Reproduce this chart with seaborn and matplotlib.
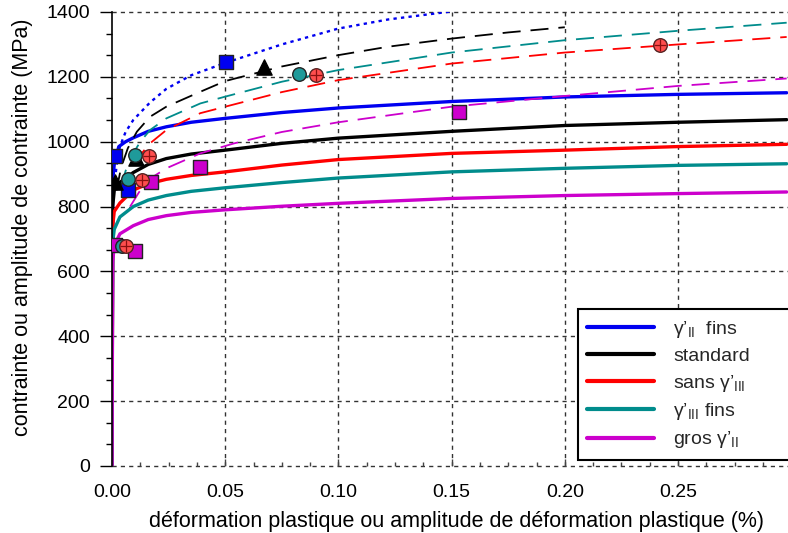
import numpy as np
import pandas as pd
import matplotlib
matplotlib.use("Agg")
import matplotlib.pyplot as plt
import seaborn as sns
from matplotlib.ticker import MultipleLocator, AutoMinorLocator
from matplotlib.lines import Line2D

# ---------------- data ----------------
# monotonic / cyclic stress-strain curves (solid)
fins_II_x = [0.0, 0.0003, 0.001, 0.003, 0.006, 0.0094, 0.016, 0.024, 0.035, 0.05, 0.075, 0.1, 0.15, 0.2, 0.25, 0.298]
fins_II_y = [0, 880, 930, 985, 1000, 1012, 1032, 1046, 1060, 1072, 1090, 1104, 1124, 1138, 1146, 1151]

std_x = [0.0, 0.0003, 0.001, 0.003, 0.0094, 0.016, 0.024, 0.035, 0.05, 0.075, 0.1, 0.15, 0.2, 0.25, 0.298]
std_y = [0, 800, 850, 872, 905, 930, 948, 962, 974, 995, 1011, 1032, 1050, 1060, 1068]

sans_III_x = [0.0, 0.0003, 0.001, 0.0035, 0.0094, 0.016, 0.024, 0.035, 0.05, 0.075, 0.1, 0.15, 0.2, 0.25, 0.298]
sans_III_y = [0, 740, 785, 811, 851, 870, 884, 896, 907, 928, 945, 964, 974, 985, 992]

fins_III_x = [0.0, 0.0003, 0.001, 0.0035, 0.0094, 0.016, 0.024, 0.035, 0.05, 0.075, 0.1, 0.15, 0.2, 0.25, 0.298]
fins_III_y = [0, 690, 730, 768, 800, 820, 834, 847, 858, 874, 888, 907, 918, 927, 932]

gros_II_x = [0.0, 0.0003, 0.001, 0.0035, 0.0094, 0.016, 0.024, 0.035, 0.05, 0.075, 0.1, 0.15, 0.2, 0.25, 0.298]
gros_II_y = [0, 630, 680, 716, 741, 760, 772, 782, 790, 801, 810, 825, 834, 840, 845]

# fitted cyclic curves (dashed)
fins_II_fit_x = [0.001, 0.002, 0.0035, 0.006, 0.0094, 0.0168, 0.024, 0.035, 0.05, 0.075, 0.1, 0.122, 0.148, 0.17]
fins_II_fit_y = [860, 925, 985, 1030, 1067, 1121, 1163, 1205, 1243, 1300, 1349, 1377, 1400, 1425]

std_fit_x = [0.002, 0.004, 0.007, 0.011, 0.0168, 0.024, 0.039, 0.05, 0.075, 0.1, 0.122, 0.15, 0.175, 0.2]
std_fit_y = [850, 920, 980, 1031, 1077, 1108, 1154, 1187, 1232, 1267, 1293, 1318, 1337, 1353]

fins_III_fit_x = [0.004, 0.006, 0.009, 0.0125, 0.0168, 0.024, 0.039, 0.05, 0.075, 0.1, 0.15, 0.2, 0.25, 0.298]
fins_III_fit_y = [860, 910, 960, 1000, 1036, 1072, 1118, 1139, 1185, 1221, 1275, 1313, 1342, 1367]

sans_III_fit_x = [0.005, 0.008, 0.012, 0.0168, 0.024, 0.039, 0.05, 0.075, 0.1, 0.15, 0.2, 0.25, 0.298]
sans_III_fit_y = [850, 905, 955, 995, 1036, 1088, 1108, 1153, 1190, 1241, 1275, 1300, 1323]

gros_II_fit_x = [0.008, 0.012, 0.017, 0.024, 0.039, 0.054, 0.075, 0.1, 0.15, 0.2, 0.25, 0.298]
gros_II_fit_y = [800, 845, 887, 918, 964, 995, 1030, 1060, 1108, 1141, 1172, 1195]

# measured points
fins_II_pts_x = [0.0504, 0.0013, 0.0072]
fins_II_pts_y = [1245, 957, 851]
std_pts_x = [0.067, 0.0106, 0.0013]
std_pts_y = [1231, 950, 877]
fins_III_pts_x = [0.0827, 0.0102, 0.0072, 0.0043]
fins_III_pts_y = [1208, 958, 884, 677]
sans_III_pts_x = [0.242, 0.090, 0.0165, 0.0131, 0.0062]
sans_III_pts_y = [1298, 1205, 956, 882, 677]
gros_II_pts_x = [0.1534, 0.0389, 0.0171, 0.0102, 0.0013]
gros_II_pts_y = [1092, 921, 877, 664, 682]

legend_labels = ["γ’$_\\mathregular{II}$  fins", "standard", "sans γ’$_\\mathregular{III}$",
                 "γ’$_\\mathregular{III}$ fins", "gros γ’$_\\mathregular{II}$"]
x_label = "déformation plastique ou amplitude de déformation plastique (%)"
y_label = "contrainte ou amplitude de contrainte (MPa)"

# ---------------- style ----------------
sns.set_theme(style="white")
plt.rcParams["font.family"] = ["Liberation Sans", "DejaVu Sans"]
plt.rcParams["mathtext.fontset"] = "custom"
plt.rcParams["mathtext.rm"] = "Liberation Sans"

BLUE = "#0000F0"
BLACK = "#000000"
RED = "#FF0000"
TEAL = "#008C8C"
MAG = "#CC00CC"

fig = plt.figure(figsize=(7.88, 5.33), dpi=100)
ax = fig.add_axes([112 / 788, 67 / 533, 676 / 788, 454 / 533])

# grid
for v in [0.05, 0.10, 0.15, 0.20, 0.25]:
    ax.axvline(v, color="#333333", lw=1.0, ls=(0, (3, 3)), zorder=0.5)
for v in [0, 200, 400, 600, 800, 1000, 1200, 1400]:
    ax.axhline(v, color="#333333", lw=1.0, ls=(0, (3, 3)), zorder=0.5, clip_on=False)

solid_lw = 2.4
solids = [(fins_II_x, fins_II_y, BLUE), (std_x, std_y, BLACK), (sans_III_x, sans_III_y, RED),
          (fins_III_x, fins_III_y, TEAL), (gros_II_x, gros_II_y, MAG)]
for xs, ys, c in solids:
    sns.lineplot(x=xs, y=ys, ax=ax, color=c, lw=solid_lw, sort=False, estimator=None, zorder=2)

dashes = [(fins_II_fit_x, fins_II_fit_y, BLUE, (0, (1.4, 1.8)), 1.7),
          (std_fit_x, std_fit_y, BLACK, (0, (10, 5.5)), 1.3),
          (fins_III_fit_x, fins_III_fit_y, TEAL, (0, (10, 5.5)), 1.3),
          (sans_III_fit_x, sans_III_fit_y, RED, (0, (10, 5.5)), 1.3),
          (gros_II_fit_x, gros_II_fit_y, MAG, (0, (10, 5.5)), 1.3)]
for xs, ys, c, ls, lw in dashes:
    sns.lineplot(x=xs, y=ys, ax=ax, color=c, lw=lw, linestyle=ls, sort=False, estimator=None, zorder=2)

# markers
sns.scatterplot(x=fins_II_pts_x, y=fins_II_pts_y, ax=ax, marker="s", s=95, color=BLUE,
                edgecolor="#222222", linewidth=1.0, zorder=5)
sns.scatterplot(x=std_pts_x, y=std_pts_y, ax=ax, marker="^", s=120, color=BLACK,
                edgecolor="#000000", linewidth=1.0, zorder=5)
sns.scatterplot(x=fins_III_pts_x, y=fins_III_pts_y, ax=ax, marker="o", s=95, color="#1F9A9A",
                edgecolor="#222222", linewidth=1.0, zorder=6)
sns.scatterplot(x=sans_III_pts_x, y=sans_III_pts_y, ax=ax, marker="o", s=95, color="#FF4E4E",
                edgecolor="#552222", linewidth=1.0, zorder=6)
sns.scatterplot(x=sans_III_pts_x, y=sans_III_pts_y, ax=ax, marker="+", s=70, color="#8B1010",
                linewidth=0.9, zorder=7)
sns.scatterplot(x=gros_II_pts_x, y=gros_II_pts_y, ax=ax, marker="s", s=95, color=MAG,
                edgecolor="#222222", linewidth=1.0, zorder=5)

# axes
ax.set_xlim(0, 676 / 113.2 * 0.05)
ax.set_ylim(0, 1400)
ax.xaxis.set_major_locator(MultipleLocator(0.05))
ax.xaxis.set_minor_locator(AutoMinorLocator(4))
ax.yaxis.set_major_locator(MultipleLocator(200))
ax.yaxis.set_minor_locator(AutoMinorLocator(3))
ax.xaxis.set_major_formatter(matplotlib.ticker.FormatStrFormatter("%.2f"))

for s in ["top", "right", "bottom"]:
    ax.spines[s].set_visible(False)
ax.spines["left"].set_color("black")
ax.spines["left"].set_linewidth(1.2)

ax.tick_params(axis="y", which="major", direction="out", length=9, width=1.0, color="black",
               labelsize=14, pad=7, left=True)
ax.tick_params(axis="y", which="minor", direction="out", length=4.5, width=1.0, color="black", left=True)
ax.tick_params(axis="x", which="major", direction="in", length=5, width=1.0, color="#444444",
               labelsize=14, pad=13, bottom=True)
ax.tick_params(axis="x", which="minor", direction="in", length=3, width=1.0, color="#444444", bottom=True)
for lab in ax.get_xticklabels() + ax.get_yticklabels():
    lab.set_color("black")

ax.set_xlabel(x_label, fontsize=15.5, color="black", labelpad=7)
ax.set_ylabel(y_label, fontsize=15.5, color="black")
ax.yaxis.set_label_coords(-0.117, 0.525)
ax.xaxis.label.set_x(0.51)

handles = [Line2D([0], [0], color=c, lw=3) for c in [BLUE, BLACK, RED, TEAL, MAG]]
leg = ax.legend(handles, legend_labels, loc="lower left",
                bbox_to_anchor=(0.689, 0.013, 0.33, 0.325), mode="expand",
                fontsize=14, handlelength=3.4, handletextpad=1.0, borderpad=0.5,
                labelspacing=0.38, frameon=True, fancybox=False, borderaxespad=0)
leg.get_frame().set_edgecolor("black")
leg.get_frame().set_linewidth(1.5)
leg.get_frame().set_alpha(1)
leg.set_zorder(10)

fig.savefig("out.png", dpi=100)
